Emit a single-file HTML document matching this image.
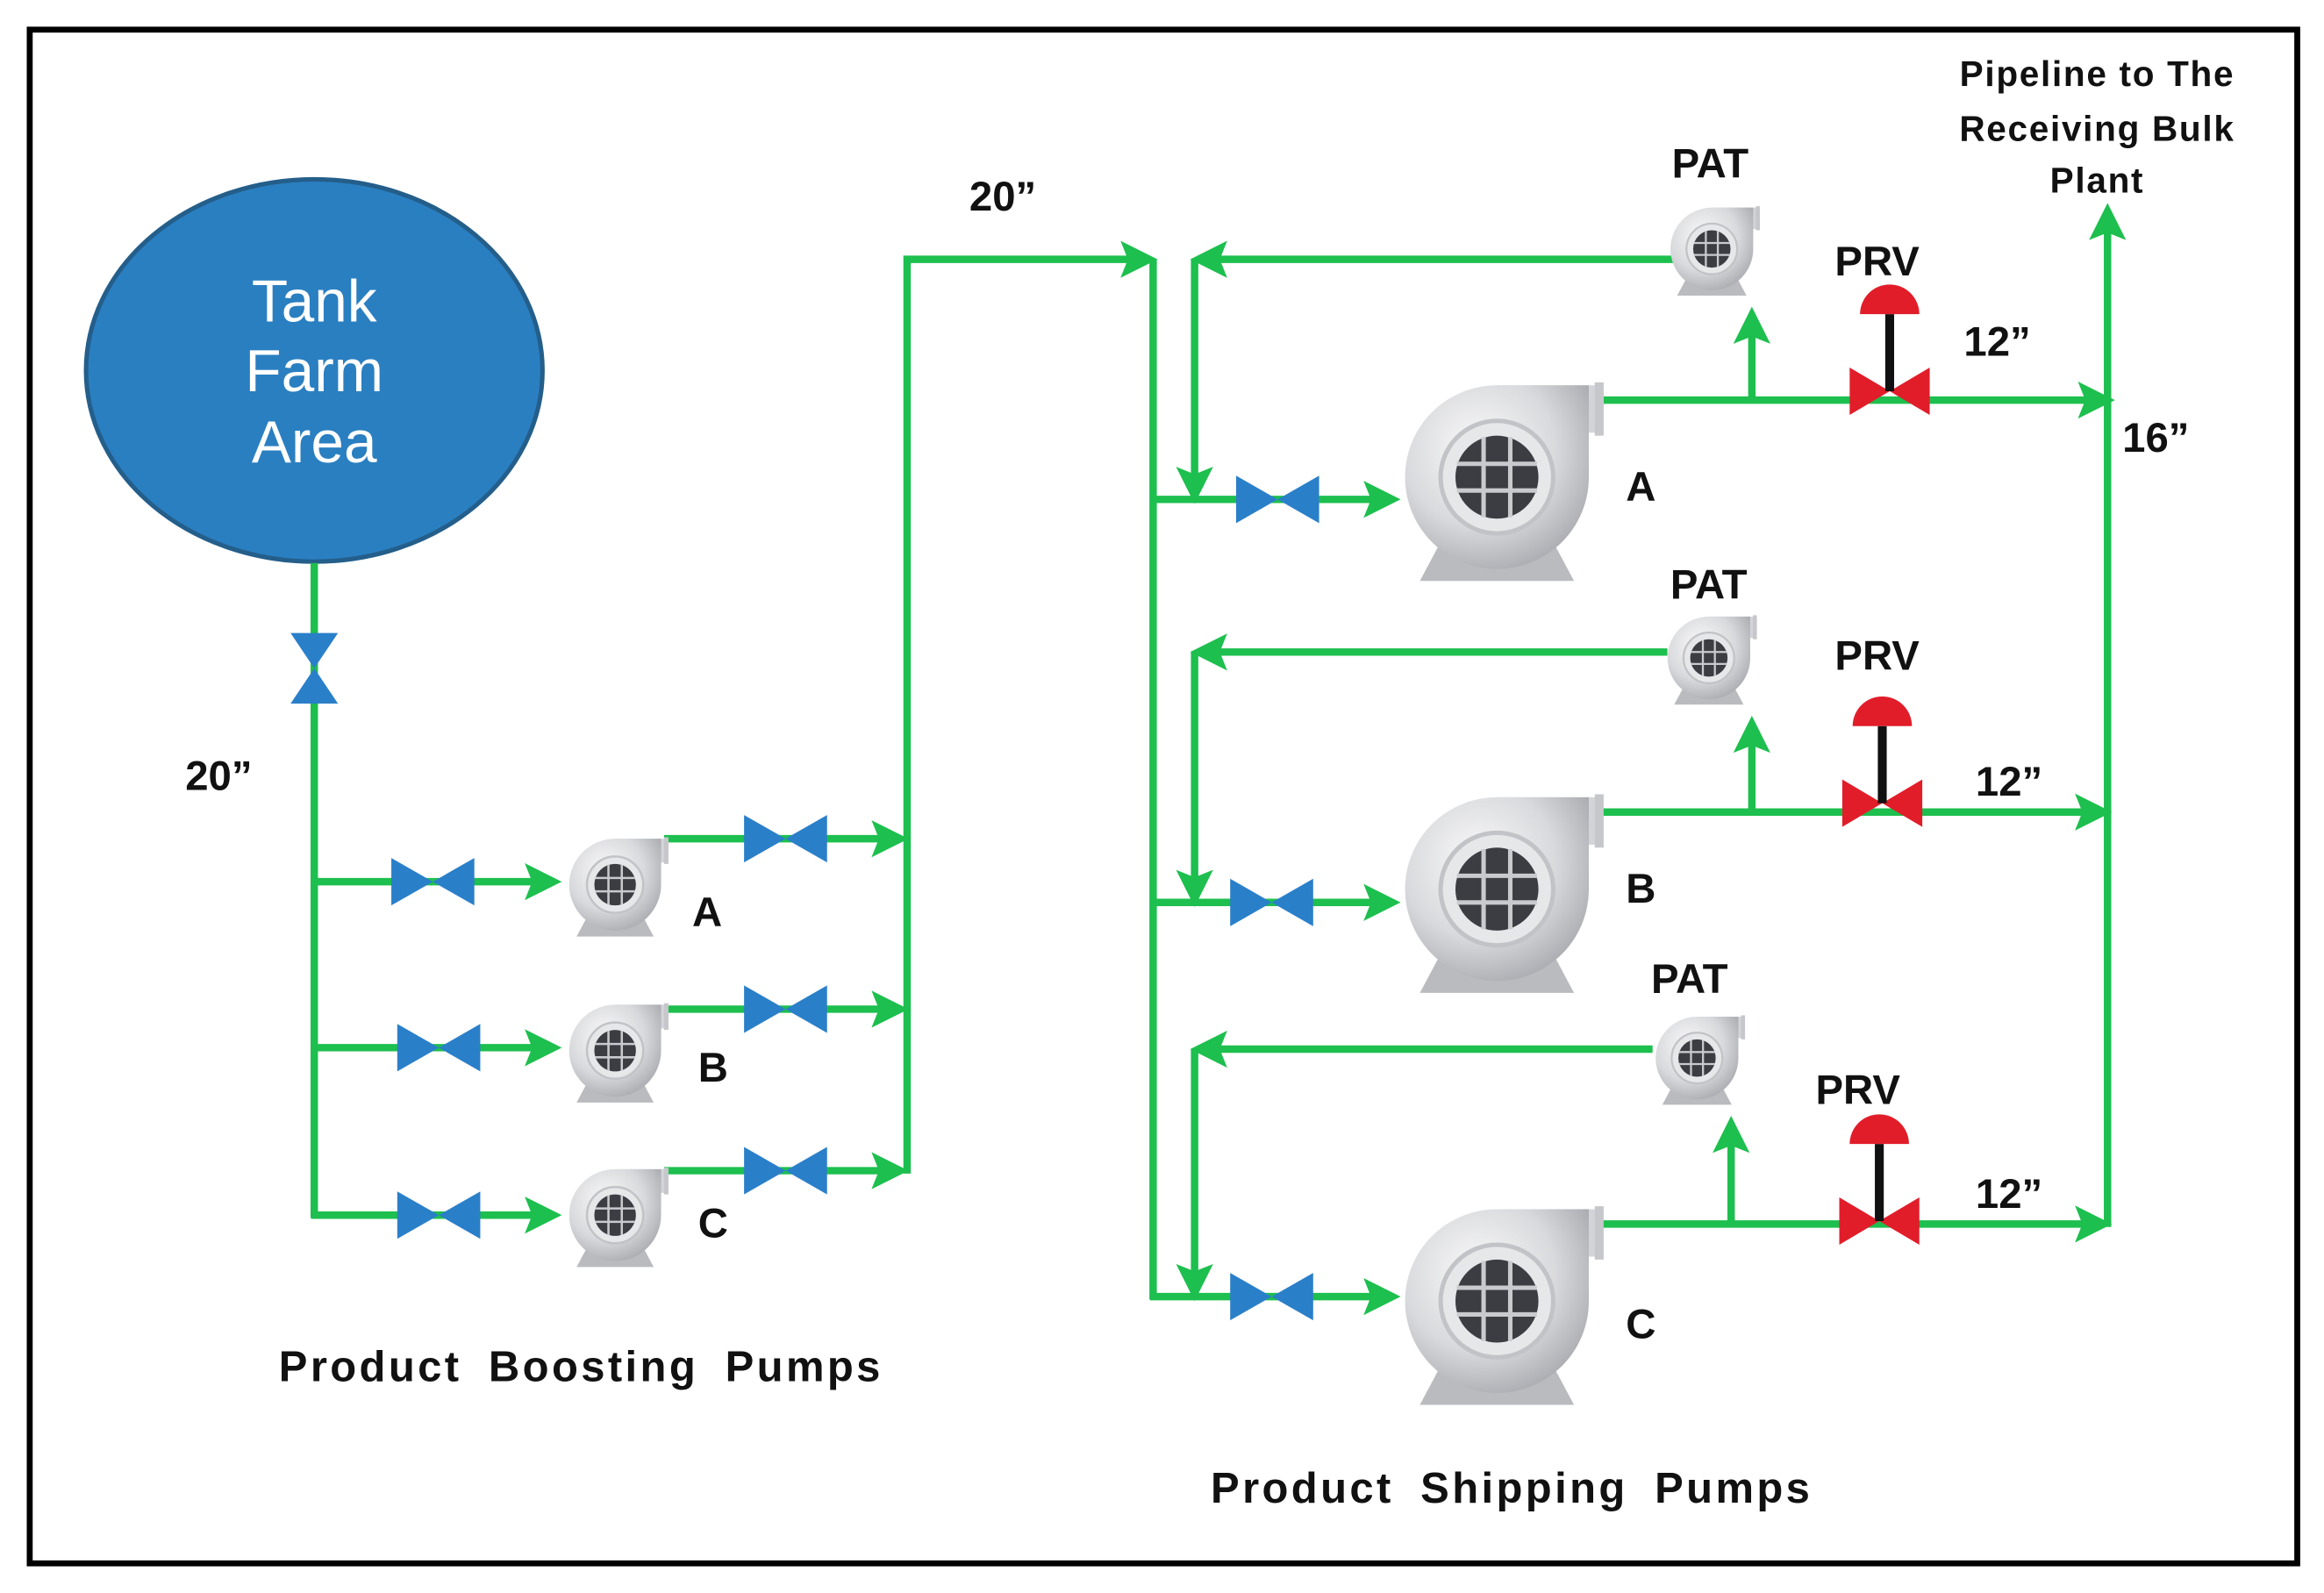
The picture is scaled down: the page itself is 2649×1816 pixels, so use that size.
<!DOCTYPE html>
<html><head><meta charset="utf-8"><style>
html,body{margin:0;padding:0;background:#fff}
svg{display:block}
text{font-family:"Liberation Sans",sans-serif;font-weight:bold}
</style></head><body>
<svg width="2649" height="1816" viewBox="0 0 1568 1075" xmlns="http://www.w3.org/2000/svg">
<defs>
<marker id="ar" markerWidth="5" markerHeight="5" refX="4" refY="2.5" orient="auto" markerUnits="strokeWidth">
<path d="M0,0 L5,2.5 L0,5 L1,2.5 Z" fill="#1dbf4e"/></marker>
<radialGradient id="pg" cx="0.4" cy="0.35" r="0.7"><stop offset="0" stop-color="#fafafa"/><stop offset="0.6" stop-color="#d8d9dc"/><stop offset="1" stop-color="#a9abb0"/></radialGradient>
<g id="pump">
<path d="M-52,70 L52,70 L36,40 L-36,40 Z" fill="#b9bbbf"/>
<rect x="0" y="-62" width="70" height="32" fill="#d3d4d7"/>
<rect x="66" y="-64" width="6" height="36" fill="#c6c7ca"/>
<path d="M0,-62 A62,62 0 1 0 62,0 L62,-62 Z" fill="url(#pg)"/>
<circle cx="0" cy="0" r="38" fill="#e6e7e9" stroke="#c2c3c6" stroke-width="3"/>
<circle cx="0" cy="0" r="28" fill="#3b3d42"/>
<g stroke="#c9cacd" stroke-width="3"><line x1="-27" y1="-9" x2="27" y2="-9"/><line x1="-27" y1="9" x2="27" y2="9"/><line x1="-9" y1="-27" x2="-9" y2="27"/><line x1="9" y1="-27" x2="9" y2="27"/></g>
</g>
<g id="valve"><path d="M-28,-16 L28,16 L28,-16 L-28,16 Z" fill="#2a7fc9"/></g>
<g id="prv"><path d="M-27,-16 L27,16 L27,-16 L-27,16 Z" fill="#e11d2a"/><line x1="0" y1="0" x2="0" y2="-52" stroke="#111" stroke-width="6"/><path d="M-20,-52 A20,20 0 0 1 20,-52 Z" fill="#e11d2a"/></g>
</defs>
<rect x="20" y="20" width="1530" height="1035" fill="#fff" stroke="#000" stroke-width="4"/>
<ellipse cx="212" cy="250" rx="154" ry="129" fill="#2a7fc1" stroke="#245e8a" stroke-width="3"/>
<g fill="#fff" font-size="40" text-anchor="middle"><text x="212" y="217" style="font-weight:normal">Tank</text><text x="212" y="264" style="font-weight:normal">Farm</text><text x="212" y="312" style="font-weight:normal">Area</text></g>
<g stroke="#1dbf4e" stroke-width="5" fill="none">
<line x1="212" y1="380" x2="212" y2="822"/>
<line x1="212" y1="595" x2="374" y2="595" marker-end="url(#ar)"/>
<line x1="212" y1="707" x2="374" y2="707" marker-end="url(#ar)"/>
<line x1="210" y1="820" x2="374" y2="820" marker-end="url(#ar)"/>
<line x1="448" y1="566" x2="608" y2="566" marker-end="url(#ar)"/>
<line x1="448" y1="681" x2="608" y2="681" marker-end="url(#ar)"/>
<line x1="448" y1="790" x2="608" y2="790" marker-end="url(#ar)"/>
<polyline points="612,792 612,175 776,175" marker-end="url(#ar)"/>
<line x1="778" y1="175" x2="778" y2="877"/>
<line x1="778" y1="337" x2="940" y2="337" marker-end="url(#ar)"/>
<line x1="778" y1="609" x2="940" y2="609" marker-end="url(#ar)"/>
<line x1="776" y1="875" x2="940" y2="875" marker-end="url(#ar)"/>
<line x1="1150" y1="175" x2="808" y2="175" marker-end="url(#ar)"/>
<line x1="806" y1="175" x2="806" y2="335" marker-end="url(#ar)"/>
<line x1="1125" y1="440" x2="808" y2="440" marker-end="url(#ar)"/>
<line x1="806" y1="440" x2="806" y2="607" marker-end="url(#ar)"/>
<line x1="1115" y1="708" x2="808" y2="708" marker-end="url(#ar)"/>
<line x1="806" y1="708" x2="806" y2="873" marker-end="url(#ar)"/>
<line x1="1082" y1="270" x2="1422" y2="270" marker-end="url(#ar)"/>
<line x1="1182" y1="270" x2="1182" y2="212" marker-end="url(#ar)"/>
<line x1="1080" y1="548" x2="1420" y2="548" marker-end="url(#ar)"/>
<line x1="1182" y1="548" x2="1182" y2="488" marker-end="url(#ar)"/>
<line x1="1078" y1="826" x2="1420" y2="826" marker-end="url(#ar)"/>
<line x1="1168" y1="826" x2="1168" y2="758" marker-end="url(#ar)"/>
<line x1="1422" y1="828" x2="1422" y2="142" marker-end="url(#ar)"/>
</g>
<g transform="translate(212,451) rotate(90)"><use href="#valve" transform="scale(0.85,1)"/></g>
<use href="#valve" x="292" y="595"/><use href="#valve" x="296" y="707"/><use href="#valve" x="296" y="820"/>
<use href="#valve" x="530" y="566"/><use href="#valve" x="530" y="681"/><use href="#valve" x="530" y="790"/>
<use href="#valve" x="862" y="337"/><use href="#valve" x="858" y="609"/><use href="#valve" x="858" y="875"/>
<use href="#prv" x="1275" y="264"/><use href="#prv" x="1270" y="542"/><use href="#prv" x="1268" y="824"/>
<g transform="translate(415,597) scale(0.5)"><use href="#pump"/></g>
<g transform="translate(415,709) scale(0.5)"><use href="#pump"/></g>
<g transform="translate(415,820) scale(0.5)"><use href="#pump"/></g>
<g transform="translate(1010,322)"><use href="#pump"/></g>
<g transform="translate(1010,600)"><use href="#pump"/></g>
<g transform="translate(1010,878)"><use href="#pump"/></g>
<g transform="translate(1155,168) scale(0.45)"><use href="#pump"/></g>
<g transform="translate(1153,444) scale(0.45)"><use href="#pump"/></g>
<g transform="translate(1145,714) scale(0.45)"><use href="#pump"/></g>
<g fill="#111" font-size="28">
<text x="125" y="533">20”</text>
<text x="654" y="142">20”</text>
<text x="467" y="625">A</text><text x="471" y="730">B</text><text x="471" y="835">C</text>
<text x="1097" y="338">A</text><text x="1097" y="609">B</text><text x="1097" y="903">C</text>
<text x="1128" y="120">PAT</text><text x="1127" y="404">PAT</text><text x="1114" y="670">PAT</text>
<text x="1238" y="186">PRV</text><text x="1238" y="452">PRV</text><text x="1225" y="745">PRV</text>
<text x="1325" y="240">12”</text><text x="1333" y="537">12”</text><text x="1333" y="815">12”</text>
<text x="1432" y="305">16”</text>
<text x="392" y="932" text-anchor="middle" font-size="29" letter-spacing="2" word-spacing="8">Product Boosting Pumps</text>
<text x="1020" y="1014" text-anchor="middle" font-size="29" letter-spacing="2" word-spacing="8">Product Shipping Pumps</text>
<g font-size="24" text-anchor="middle" letter-spacing="1"><text x="1415" y="58">Pipeline to The</text><text x="1415" y="95">Receiving Bulk</text><text x="1415" y="130">Plant</text></g>
</g>
</svg>
</body></html>
